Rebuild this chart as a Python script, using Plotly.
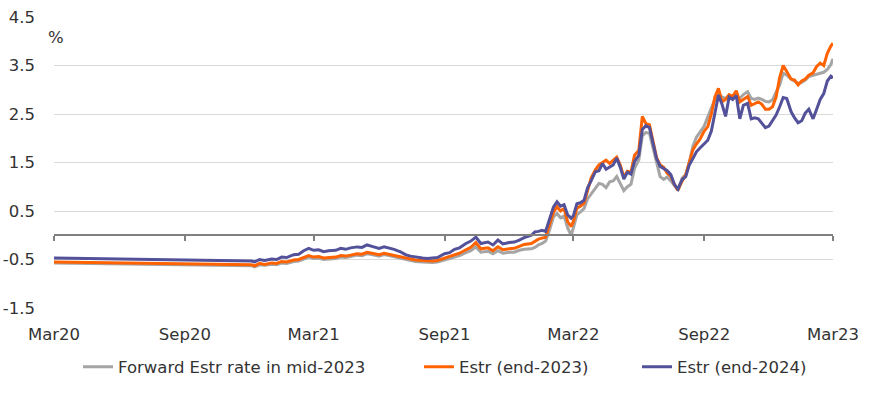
import plotly.graph_objects as go

# ---------------- data ----------------
dates = (
    ["2020-03-01",
     "2020-12-04", "2020-12-08", "2020-12-15", "2020-12-22"]
    + [f"2021-{m:02d}-{d:02d}" for m in range(1, 13) for d in (1, 8, 15, 22)]
    + [f"2022-{m:02d}-{d:02d}" for m in range(1, 13) for d in (1, 6, 11, 16, 21, 26)]
    + [f"2023-{m:02d}-{d:02d}" for m in range(1, 3) for d in (1, 6, 11, 16, 21, 26)]
    + ["2023-03-01"]
)

estr_2024 = [
    -0.47,
    -0.53, -0.55, -0.50, -0.52,
    -0.49, -0.50, -0.45, -0.46,
    -0.40, -0.39, -0.32, -0.27,
    -0.31, -0.30, -0.34, -0.32,
    -0.31, -0.27, -0.29, -0.26,
    -0.24, -0.25, -0.20, -0.23,
    -0.27, -0.24, -0.26, -0.29,
    -0.34, -0.40, -0.43, -0.45,
    -0.47, -0.48, -0.47, -0.46,
    -0.38, -0.36, -0.29, -0.26,
    -0.17, -0.12, -0.04, -0.17,
    -0.14, -0.20, -0.10, -0.18,
    -0.15, -0.14, -0.10, -0.05,
    # 2022
    0.00, 0.07, 0.08, 0.10, 0.08, 0.30,
    0.58, 0.69, 0.60, 0.63, 0.42, 0.35,
    0.40, 0.65, 0.67, 0.72, 0.98, 1.12,
    1.31, 1.33, 1.48, 1.36, 1.41, 1.45,
    1.59, 1.40, 1.16, 1.30, 1.26, 1.52,
    1.65, 2.18, 2.26, 2.22, 1.90, 1.58,
    1.42, 1.38, 1.33, 1.25, 1.05, 0.95,
    1.15, 1.21, 1.45, 1.58, 1.72, 1.80,
    1.88, 1.96, 2.15, 2.55, 2.89, 2.70,
    2.45, 2.85, 2.80, 2.88, 2.40, 2.68,
    2.72, 2.40, 2.42, 2.40, 2.30, 2.22,
    2.25, 2.38, 2.48, 2.65, 2.84, 2.82,
    # 2023
    2.55, 2.42, 2.32, 2.36, 2.52, 2.60,
    2.40, 2.60, 2.80, 2.92, 3.18, 3.28,
    3.24,
]

estr_2023 = [
    -0.55,
    -0.61, -0.63, -0.58, -0.60,
    -0.57, -0.58, -0.54, -0.55,
    -0.51, -0.50, -0.46, -0.42,
    -0.45, -0.44, -0.47, -0.46,
    -0.45, -0.42, -0.43, -0.41,
    -0.38, -0.39, -0.35, -0.37,
    -0.40, -0.37, -0.39, -0.42,
    -0.44, -0.47, -0.49, -0.51,
    -0.52, -0.53, -0.53, -0.52,
    -0.47, -0.45, -0.40, -0.37,
    -0.30, -0.25, -0.15, -0.28,
    -0.26, -0.32, -0.24, -0.30,
    -0.28, -0.27, -0.23, -0.19,
    # 2022
    -0.17, -0.13, -0.08, -0.06, -0.04, 0.20,
    0.47, 0.59, 0.50, 0.55, 0.28, 0.18,
    0.28, 0.56, 0.60, 0.66, 0.95, 1.18,
    1.35, 1.45, 1.50, 1.55, 1.48, 1.55,
    1.61, 1.45, 1.20, 1.32, 1.30, 1.65,
    1.75, 2.45, 2.30, 2.28, 1.95, 1.60,
    1.45, 1.40, 1.28, 1.22, 1.05, 0.93,
    1.12, 1.25, 1.50, 1.76, 1.88, 1.98,
    2.15, 2.24, 2.50, 2.85, 3.03, 2.75,
    2.80, 2.90, 2.86, 2.98, 2.75, 2.80,
    2.86, 2.68, 2.72, 2.75, 2.70, 2.60,
    2.60, 2.65, 2.85, 3.25, 3.50, 3.38,
    # 2023
    3.22, 3.20, 3.10, 3.18, 3.22, 3.30,
    3.35, 3.48, 3.55, 3.50, 3.75, 3.90,
    3.96,
]

fwd_mid2023 = [
    -0.57,
    -0.63, -0.65, -0.61, -0.62,
    -0.60, -0.61, -0.57, -0.58,
    -0.54, -0.53, -0.49, -0.45,
    -0.48, -0.47, -0.50, -0.49,
    -0.48, -0.45, -0.46, -0.44,
    -0.41, -0.42, -0.38, -0.40,
    -0.43, -0.40, -0.42, -0.45,
    -0.47, -0.50, -0.52, -0.54,
    -0.55, -0.56, -0.56, -0.55,
    -0.51, -0.49, -0.45, -0.42,
    -0.36, -0.32, -0.24, -0.35,
    -0.33, -0.38, -0.32, -0.37,
    -0.35, -0.35, -0.31, -0.29,
    # 2022
    -0.28, -0.25, -0.20, -0.17, -0.12, 0.08,
    0.38, 0.45, 0.36, 0.40, 0.15, 0.00,
    0.15, 0.42, 0.48, 0.55, 0.75, 0.85,
    0.97, 1.07, 1.05, 0.98, 1.10, 1.12,
    1.21, 1.05, 0.92, 1.00, 1.05, 1.38,
    1.55, 2.05, 2.12, 2.10, 1.80, 1.50,
    1.21, 1.15, 1.20, 1.12, 1.02, 0.93,
    1.18, 1.25, 1.50, 1.83, 2.02, 2.12,
    2.25, 2.44, 2.62, 2.80, 2.92, 2.85,
    2.82, 2.88, 2.88, 2.89, 2.82, 2.90,
    2.96, 2.82, 2.80, 2.83, 2.80, 2.76,
    2.75, 2.79, 2.95, 3.10, 3.34, 3.30,
    # 2023
    3.22, 3.18, 3.13, 3.15, 3.20, 3.27,
    3.30, 3.33, 3.34, 3.36, 3.42, 3.52,
    3.64,
]

series_names = ["Forward Estr rate in mid-2023", "Estr (end-2023)", "Estr (end-2024)"]
series_values = [fwd_mid2023, estr_2023, estr_2024]
series_colors = ["#A5A5A5", "#FF6200", "#525199"]

x_tick_dates = ["2020-03-01", "2020-09-01", "2021-03-01", "2021-09-01",
                "2022-03-01", "2022-09-01", "2023-03-01"]
x_tick_labels = ["Mar20", "Sep20", "Mar21", "Sep21", "Mar22", "Sep22", "Mar23"]
y_ticks = [-1.5, -0.5, 0.5, 1.5, 2.5, 3.5, 4.5]
y_tick_labels = ["-1.5", "-0.5", "0.5", "1.5", "2.5", "3.5", "4.5"]
x_range = ["2020-03-01", "2023-03-01"]
y_range = [-1.5, 4.5]

# ---------------- figure ----------------
FONT = "DejaVu Sans"
FS = 16.5
TXT = "#333333"
W, H = 871, 396

# one legend per series, each placed where the reference shows it
legend_left_px = [78, 419, 637]
legend_ids = ["legend", "legend2", "legend3"]

fig = go.Figure()
for name, vals, col, lid in zip(series_names, series_values, series_colors, legend_ids):
    fig.add_trace(go.Scatter(x=dates, y=vals, mode="lines", name=name, legend=lid,
                             line=dict(color=col, width=3)))
# helper (empty) trace so the zero-level axis carrying the tick marks is drawn
fig.add_trace(go.Scatter(x=[], y=[], xaxis="x2", showlegend=False, hoverinfo="skip"))

legend_common = dict(orientation="h", xref="container", yref="container",
                     xanchor="left", y=1 - 367 / H, yanchor="middle",
                     bgcolor="rgba(0,0,0,0)", borderwidth=0,
                     font=dict(family=FONT, size=FS, color=TXT))
legends = {}
for lid, px in zip(legend_ids, legend_left_px):
    legends[lid] = dict(legend_common, x=px / W)

fig.update_layout(
    width=W, height=H,
    margin=dict(l=54, r=38, t=17, b=88, autoexpand=False),
    paper_bgcolor="white", plot_bgcolor="white",
    font=dict(family=FONT, size=FS, color=TXT),
    showlegend=True,
    xaxis=dict(type="date", range=x_range, tickvals=x_tick_dates, ticktext=x_tick_labels,
               showgrid=False, showline=False, zeroline=False, ticks="",
               ticklabelstandoff=14, tickfont=dict(size=FS), automargin=False),
    xaxis2=dict(type="date", range=x_range, tickvals=x_tick_dates, overlaying="x",
                anchor="free", position=0.25, showline=True, linecolor="#808080",
                linewidth=1.5, ticks="outside", ticklen=5, tickcolor="#808080",
                tickwidth=1.5, showticklabels=False, showgrid=False, zeroline=False,
                automargin=False),
    yaxis=dict(range=y_range, tickvals=y_ticks, ticktext=y_tick_labels,
               showgrid=True, gridcolor="#D9D9D9", gridwidth=1, zeroline=False,
               showline=False, ticks="", ticklabelstandoff=18, tickfont=dict(size=FS),
               automargin=False),
    annotations=[dict(text="%", xref="paper", yref="paper", x=0.003, y=0.928,
                      xanchor="center", yanchor="middle", showarrow=False,
                      font=dict(family=FONT, size=FS, color=TXT))],
    **legends,
)

fig.write_html("out.html", config={"displayModeBar": False},
               post_script="document.body.style.margin='0px';"
                           "document.body.style.overflow='hidden';")
